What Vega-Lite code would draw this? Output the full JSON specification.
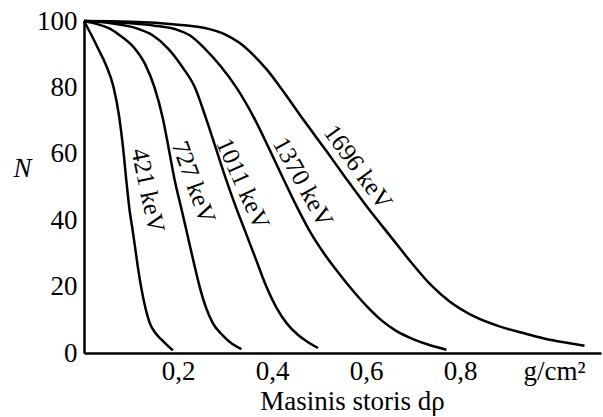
{
  "$schema": "https://vega.github.io/schema/vega-lite/v6.json",
  "autosize": "none",
  "width": 517,
  "height": 332,
  "padding": {"left": 84, "top": 21, "right": 2, "bottom": 64},
  "background": "white",
  "config": {
    "view": {"stroke": null},
    "font": "Liberation Serif, DejaVu Serif, serif",
    "text": {"font": "Liberation Serif, DejaVu Serif, serif"},
    "axis": {
      "grid": false,
      "domainColor": "black",
      "domainWidth": 2.5,
      "ticks": false,
      "labelFont": "Liberation Serif, DejaVu Serif, serif",
      "labelFontSize": 27,
      "labelColor": "black",
      "titleFont": "Liberation Serif, DejaVu Serif, serif",
      "titleFontWeight": "normal",
      "titleColor": "black",
      "titleFontSize": 27
    }
  },
  "datasets": {
    "curves": [
      {"E": "421 keV", "x": 0.0, "N": 100},
      {"E": "421 keV", "x": 0.016, "N": 95.7},
      {"E": "421 keV", "x": 0.030, "N": 91.7},
      {"E": "421 keV", "x": 0.046, "N": 87},
      {"E": "421 keV", "x": 0.063, "N": 80},
      {"E": "421 keV", "x": 0.075, "N": 71},
      {"E": "421 keV", "x": 0.083, "N": 62},
      {"E": "421 keV", "x": 0.090, "N": 52},
      {"E": "421 keV", "x": 0.097, "N": 43},
      {"E": "421 keV", "x": 0.104, "N": 36.5},
      {"E": "421 keV", "x": 0.109, "N": 31.5},
      {"E": "421 keV", "x": 0.115, "N": 25.5},
      {"E": "421 keV", "x": 0.122, "N": 19.5},
      {"E": "421 keV", "x": 0.130, "N": 14},
      {"E": "421 keV", "x": 0.140, "N": 9},
      {"E": "421 keV", "x": 0.152, "N": 6},
      {"E": "421 keV", "x": 0.165, "N": 4},
      {"E": "421 keV", "x": 0.178, "N": 2.2},
      {"E": "421 keV", "x": 0.189, "N": 0.8},
      {"E": "727 keV", "x": 0.0, "N": 100},
      {"E": "727 keV", "x": 0.030, "N": 99},
      {"E": "727 keV", "x": 0.055, "N": 97.7},
      {"E": "727 keV", "x": 0.076, "N": 95.7},
      {"E": "727 keV", "x": 0.108, "N": 91.7},
      {"E": "727 keV", "x": 0.130, "N": 87},
      {"E": "727 keV", "x": 0.150, "N": 80},
      {"E": "727 keV", "x": 0.168, "N": 70.5},
      {"E": "727 keV", "x": 0.181, "N": 61},
      {"E": "727 keV", "x": 0.193, "N": 52},
      {"E": "727 keV", "x": 0.208, "N": 43},
      {"E": "727 keV", "x": 0.221, "N": 35},
      {"E": "727 keV", "x": 0.234, "N": 27},
      {"E": "727 keV", "x": 0.246, "N": 20},
      {"E": "727 keV", "x": 0.260, "N": 13.5},
      {"E": "727 keV", "x": 0.274, "N": 9},
      {"E": "727 keV", "x": 0.295, "N": 5.3},
      {"E": "727 keV", "x": 0.315, "N": 2.8},
      {"E": "727 keV", "x": 0.335, "N": 1.2},
      {"E": "1011 keV", "x": 0.0, "N": 100},
      {"E": "1011 keV", "x": 0.050, "N": 99.5},
      {"E": "1011 keV", "x": 0.085, "N": 98.7},
      {"E": "1011 keV", "x": 0.114, "N": 97.7},
      {"E": "1011 keV", "x": 0.146, "N": 95.7},
      {"E": "1011 keV", "x": 0.179, "N": 91.7},
      {"E": "1011 keV", "x": 0.210, "N": 86},
      {"E": "1011 keV", "x": 0.236, "N": 80},
      {"E": "1011 keV", "x": 0.260, "N": 70.5},
      {"E": "1011 keV", "x": 0.282, "N": 61},
      {"E": "1011 keV", "x": 0.303, "N": 52},
      {"E": "1011 keV", "x": 0.323, "N": 44},
      {"E": "1011 keV", "x": 0.342, "N": 37},
      {"E": "1011 keV", "x": 0.365, "N": 28.5},
      {"E": "1011 keV", "x": 0.388, "N": 20},
      {"E": "1011 keV", "x": 0.410, "N": 13.5},
      {"E": "1011 keV", "x": 0.431, "N": 9},
      {"E": "1011 keV", "x": 0.455, "N": 5.5},
      {"E": "1011 keV", "x": 0.476, "N": 3.3},
      {"E": "1011 keV", "x": 0.498, "N": 1.5},
      {"E": "1370 keV", "x": 0.0, "N": 100},
      {"E": "1370 keV", "x": 0.080, "N": 99.5},
      {"E": "1370 keV", "x": 0.150, "N": 98.6},
      {"E": "1370 keV", "x": 0.195, "N": 97.5},
      {"E": "1370 keV", "x": 0.225, "N": 95.7},
      {"E": "1370 keV", "x": 0.257, "N": 91.7},
      {"E": "1370 keV", "x": 0.290, "N": 86.5},
      {"E": "1370 keV", "x": 0.324, "N": 80},
      {"E": "1370 keV", "x": 0.363, "N": 70.5},
      {"E": "1370 keV", "x": 0.393, "N": 61.8},
      {"E": "1370 keV", "x": 0.423, "N": 52.8},
      {"E": "1370 keV", "x": 0.453, "N": 44},
      {"E": "1370 keV", "x": 0.483, "N": 36},
      {"E": "1370 keV", "x": 0.513, "N": 29.5},
      {"E": "1370 keV", "x": 0.545, "N": 23.5},
      {"E": "1370 keV", "x": 0.575, "N": 18.3},
      {"E": "1370 keV", "x": 0.605, "N": 13.6},
      {"E": "1370 keV", "x": 0.635, "N": 9.6},
      {"E": "1370 keV", "x": 0.665, "N": 6.6},
      {"E": "1370 keV", "x": 0.700, "N": 4.2},
      {"E": "1370 keV", "x": 0.735, "N": 2.4},
      {"E": "1370 keV", "x": 0.771, "N": 1.0},
      {"E": "1696 keV", "x": 0.0, "N": 100},
      {"E": "1696 keV", "x": 0.100, "N": 99.8},
      {"E": "1696 keV", "x": 0.200, "N": 98.9},
      {"E": "1696 keV", "x": 0.260, "N": 97.8},
      {"E": "1696 keV", "x": 0.300, "N": 96.0},
      {"E": "1696 keV", "x": 0.330, "N": 93.5},
      {"E": "1696 keV", "x": 0.360, "N": 89.8},
      {"E": "1696 keV", "x": 0.390, "N": 85.2},
      {"E": "1696 keV", "x": 0.420, "N": 79.6},
      {"E": "1696 keV", "x": 0.463, "N": 71},
      {"E": "1696 keV", "x": 0.515, "N": 61},
      {"E": "1696 keV", "x": 0.558, "N": 52.5},
      {"E": "1696 keV", "x": 0.605, "N": 43.5},
      {"E": "1696 keV", "x": 0.650, "N": 35.5},
      {"E": "1696 keV", "x": 0.695, "N": 27.5},
      {"E": "1696 keV", "x": 0.738, "N": 20.5},
      {"E": "1696 keV", "x": 0.778, "N": 15.5},
      {"E": "1696 keV", "x": 0.830, "N": 11},
      {"E": "1696 keV", "x": 0.884, "N": 8},
      {"E": "1696 keV", "x": 0.940, "N": 5.8},
      {"E": "1696 keV", "x": 0.991, "N": 4},
      {"E": "1696 keV", "x": 1.030, "N": 3},
      {"E": "1696 keV", "x": 1.065, "N": 2.2}
    ],
    "labels": [
      {"E": "421 keV", "x": 0.136, "N": 49},
      {"E": "727 keV", "x": 0.233, "N": 51.5},
      {"E": "1011 keV", "x": 0.338, "N": 51},
      {"E": "1370 keV", "x": 0.466, "N": 51.5},
      {"E": "1696 keV", "x": 0.583, "N": 56}
    ],
    "xticks": [{"x": 0.2}, {"x": 0.4}, {"x": 0.6}, {"x": 0.8}, {"x": 1.0}],
    "yticks": [{"N": 20}, {"N": 40}, {"N": 60}, {"N": 80}]
  },
  "encoding": {
    "x": {
      "field": "x",
      "type": "quantitative",
      "scale": {"domain": [0, 1.1], "nice": false, "zero": false},
      "axis": {
        "values": [0.2, 0.4, 0.6, 0.8, 1.0],
        "labelExpr": "datum.value >= 0.99 ? 'g/cm²' : replace(format(datum.value, '.1f'), '.', ',')",
        "labelPadding": 5,
        "title": "Masinis storis dρ",
        "titleX": 268,
        "titlePadding": 4
      }
    },
    "y": {
      "field": "N",
      "type": "quantitative",
      "scale": {"domain": [0, 100], "nice": false},
      "axis": {
        "values": [0, 20, 40, 60, 80, 100],
        "labelPadding": 7,
        "title": "N",
        "titleAngle": 0,
        "titleFontStyle": "italic",
        "titleX": -62,
        "titleY": 147,
        "titleAlign": "center",
        "titleBaseline": "middle"
      }
    }
  },
  "layer": [
    {
      "data": {"name": "xticks"},
      "mark": {"type": "rule", "color": "black", "strokeWidth": 2.5},
      "encoding": {"y": {"datum": 0}, "y2": {"datum": 2.6}}
    },
    {
      "data": {"name": "yticks"},
      "mark": {"type": "rule", "color": "black", "strokeWidth": 2.5},
      "encoding": {"x": {"datum": 0}, "x2": {"datum": 0.018}}
    },
    {
      "data": {"name": "curves"},
      "mark": {"type": "line", "color": "black", "strokeWidth": 2.5, "interpolate": "monotone"},
      "encoding": {"detail": {"field": "E"}}
    },
    {
      "data": {"name": "labels"},
      "transform": [{"filter": "datum.E === '421 keV'"}],
      "mark": {"type": "text", "angle": 78, "fontSize": 25, "color": "black", "align": "center", "baseline": "middle"},
      "encoding": {"text": {"field": "E"}}
    },
    {
      "data": {"name": "labels"},
      "transform": [{"filter": "datum.E === '727 keV'"}],
      "mark": {"type": "text", "angle": 70, "fontSize": 25, "color": "black", "align": "center", "baseline": "middle"},
      "encoding": {"text": {"field": "E"}}
    },
    {
      "data": {"name": "labels"},
      "transform": [{"filter": "datum.E === '1011 keV'"}],
      "mark": {"type": "text", "angle": 66, "fontSize": 25, "color": "black", "align": "center", "baseline": "middle"},
      "encoding": {"text": {"field": "E"}}
    },
    {
      "data": {"name": "labels"},
      "transform": [{"filter": "datum.E === '1370 keV'"}],
      "mark": {"type": "text", "angle": 61, "fontSize": 25, "color": "black", "align": "center", "baseline": "middle"},
      "encoding": {"text": {"field": "E"}}
    },
    {
      "data": {"name": "labels"},
      "transform": [{"filter": "datum.E === '1696 keV'"}],
      "mark": {"type": "text", "angle": 54, "fontSize": 25, "color": "black", "align": "center", "baseline": "middle"},
      "encoding": {"text": {"field": "E"}}
    }
  ]
}
